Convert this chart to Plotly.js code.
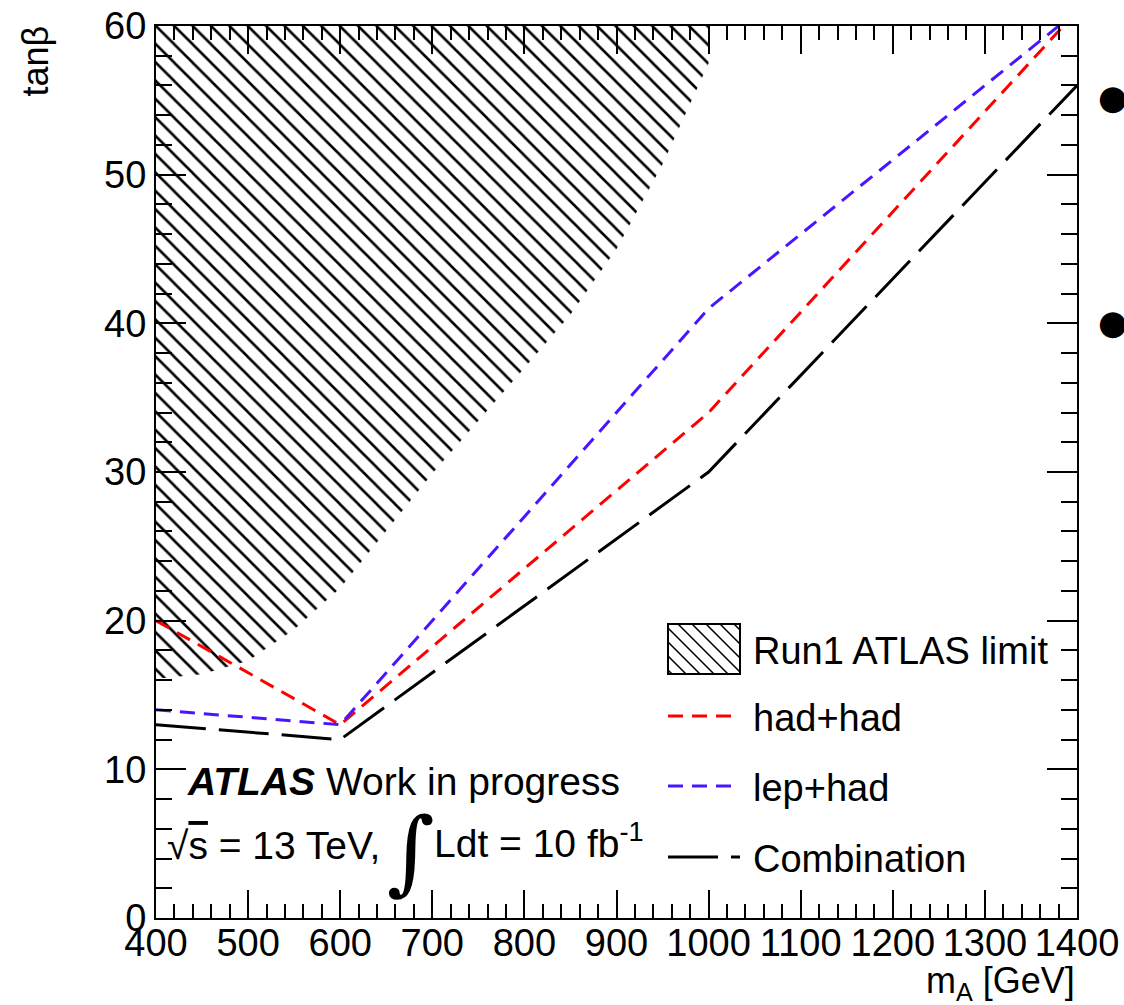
<!DOCTYPE html>
<html>
<head>
<meta charset="utf-8">
<script src="https://cdn.plot.ly/plotly-3.0.1.min.js"></script>
<style>
  html, body { margin: 0; padding: 0; background: #fff; }
  #chart { width: 1124px; height: 1005px; }
</style>
</head>
<body>
<div id="chart"></div>
<script>
// Expected tanβ limits versus m_A (GeV)
const massPoints = [400, 600, 1000, 1400];
const hadHadTanB = [20, 13, 34, 61];
const lepHadTanB = [14, 13, 41, 61];
const combTanB   = [13, 12, 30, 56];

// Run1 ATLAS excluded region: lower edge, closed along the top of the frame
const run1Mass = [400, 450, 500, 550, 600, 700, 800, 850, 900, 950, 1000, 1000, 400];
const run1TanB = [16.1, 16.4, 17.3, 19.4, 22.2, 29.9, 37.0, 40.6, 45.0, 50.7, 57.5, 60, 60];

// Axis ticks
const xTicks = [400, 500, 600, 700, 800, 900, 1000, 1100, 1200, 1300, 1400];
const yTicks = [0, 10, 20, 30, 40, 50, 60];

// Legend entries
const legendNames = ['Run1 ATLAS limit', 'had+had', 'lep+had', 'Combination'];

const FONT = 'Liberation Sans, Arial, Helvetica, sans-serif';
const RED = '#ff0000';
const BLUE = '#4b14ff';
const BLACK = '#000000';
const SHORT_DASH = '15px,9px';
const LONG_DASH = '50px,13px';

// Page geometry (pixels) and helpers from page pixels to paper coordinates
const W = 1124, H = 1005;
const M = { l: 156, r: 47, t: 26, b: 87 };
const PW = W - M.l - M.r;
const PH = H - M.t - M.b;
const px = x => (x - M.l) / PW;
const py = y => (H - M.b - y) / PH;

const traces = [
  {
    x: run1Mass, y: run1TanB, type: 'scatter', mode: 'lines',
    name: legendNames[0],
    line: { width: 0, color: BLACK },
    fill: 'toself', fillcolor: 'rgba(0,0,0,0)',
    fillpattern: { shape: '\\', fgcolor: BLACK, bgcolor: 'rgba(0,0,0,0)', size: 13, solidity: 0.2 },
    hoverinfo: 'skip', showlegend: false
  },
  {
    x: massPoints, y: hadHadTanB, type: 'scatter', mode: 'lines',
    name: legendNames[1], line: { color: RED, width: 3, dash: SHORT_DASH }, showlegend: false
  },
  {
    x: massPoints, y: lepHadTanB, type: 'scatter', mode: 'lines',
    name: legendNames[2], line: { color: BLUE, width: 3, dash: SHORT_DASH }, showlegend: false
  },
  {
    x: massPoints, y: combTanB, type: 'scatter', mode: 'lines',
    name: legendNames[3], line: { color: BLACK, width: 3, dash: LONG_DASH }, showlegend: false
  }
];

// Legend drawn inside the frame: swatches as shapes, labels as annotations
const sw = { x0: 668, x1: 740 };
const rowY = [649, 716, 786, 857];
const shapes = [];

// hatched box
const box = { x0: sw.x0, x1: sw.x1, y0: rowY[0] - 25, y1: rowY[0] + 25 };
shapes.push({
  type: 'rect', xref: 'paper', yref: 'paper',
  x0: px(box.x0), x1: px(box.x1), y0: py(box.y1), y1: py(box.y0),
  line: { color: BLACK, width: 2 }, fillcolor: 'rgba(0,0,0,0)'
});
for (let c = box.y0 - box.x1 + 6; c < box.y1 - box.x0; c += 14) {
  const xa = Math.max(box.x0, box.y0 - c);
  const xb = Math.min(box.x1, box.y1 - c);
  if (xb - xa < 1) continue;
  shapes.push({
    type: 'line', xref: 'paper', yref: 'paper',
    x0: px(xa), y0: py(xa + c), x1: px(xb), y1: py(xb + c),
    line: { color: BLACK, width: 1.6 }
  });
}
// line samples
const sampleStyles = [
  { color: RED, dash: SHORT_DASH },
  { color: BLUE, dash: SHORT_DASH },
  { color: BLACK, dash: LONG_DASH }
];
sampleStyles.forEach((s, i) => {
  shapes.push({
    type: 'line', xref: 'paper', yref: 'paper',
    x0: px(sw.x0), x1: px(sw.x1), y0: py(rowY[i + 1]), y1: py(rowY[i + 1]),
    line: { color: s.color, width: 3, dash: s.dash }
  });
});

const annotations = [];
legendNames.forEach((name, i) => {
  annotations.push({
    text: name, xref: 'paper', yref: 'paper', x: px(751), y: py(rowY[i] + 2),
    xanchor: 'left', yanchor: 'middle', showarrow: false,
    font: { family: FONT, size: 38, color: BLACK }
  });
});

// experiment label
annotations.push({
  text: '<b><i>ATLAS</i></b> Work in progress', xref: 'paper', yref: 'paper',
  x: px(185), y: py(781), xanchor: 'left', yanchor: 'middle', showarrow: false,
  font: { family: FONT, size: 39, color: BLACK }
});
annotations.push({
  text: '√<span style="text-decoration:overline">s</span> = 13 TeV,', xref: 'paper', yref: 'paper',
  x: px(165), y: py(845), xanchor: 'left', yanchor: 'middle', showarrow: false,
  font: { family: FONT, size: 39, color: BLACK }
});
annotations.push({
  text: '∫', xref: 'paper', yref: 'paper',
  x: px(411), y: py(851), xanchor: 'center', yanchor: 'middle', showarrow: false,
  font: { family: 'DejaVu Serif, serif', size: 92, color: BLACK }
});
annotations.push({
  text: 'Ldt = 10 fb<sup>-1</sup>', xref: 'paper', yref: 'paper',
  x: px(432), y: py(840), xanchor: 'left', yanchor: 'middle', showarrow: false,
  font: { family: FONT, size: 39, color: BLACK }
});

// axis titles
annotations.push({
  text: 'tanβ', xref: 'paper', yref: 'paper', x: px(35), y: py(24),
  xanchor: 'center', yanchor: 'top', textangle: -90, showarrow: false,
  font: { family: FONT, size: 36, color: BLACK }
});
annotations.push({
  text: 'm<sub>A</sub> [GeV]', xref: 'paper', yref: 'paper', x: 1, y: py(958),
  xanchor: 'right', yanchor: 'top', showarrow: false,
  font: { family: FONT, size: 36, color: BLACK }
});

// bullets of the neighbouring text column
[97, 322].forEach(yb => annotations.push({
  text: '●', xref: 'paper', yref: 'paper', x: px(1096), y: py(yb),
  xanchor: 'left', yanchor: 'middle', showarrow: false,
  font: { family: 'DejaVu Sans, sans-serif', size: 34, color: BLACK }
}));

const axisCommon = {
  ticks: 'inside', tickwidth: 2, tickcolor: BLACK,
  showline: true, linewidth: 2, linecolor: BLACK, mirror: 'ticks',
  showgrid: false, zeroline: false, fixedrange: true,
  tickfont: { family: FONT, size: 38, color: BLACK }
};

const layout = {
  width: W, height: H,
  margin: M,
  paper_bgcolor: '#ffffff', plot_bgcolor: '#ffffff',
  showlegend: false,
  xaxis: Object.assign({}, axisCommon, {
    range: [400, 1400], tickmode: 'array', tickvals: xTicks, ticktext: xTicks.map(String),
    ticklen: 28, ticklabelstandoff: -10,
    minor: { tickmode: 'linear', tick0: 400, dtick: 20, ticks: 'inside', ticklen: 14, tickwidth: 2, tickcolor: BLACK, showgrid: false }
  }),
  yaxis: Object.assign({}, axisCommon, {
    range: [0, 60], tickmode: 'array', tickvals: yTicks, ticktext: yTicks.map(String),
    ticklen: 30,
    minor: { tickmode: 'linear', tick0: 0, dtick: 2, ticks: 'inside', ticklen: 16, tickwidth: 2, tickcolor: BLACK, showgrid: false }
  }),
  shapes: shapes,
  annotations: annotations
};

Plotly.newPlot('chart', traces, layout, { staticPlot: true, displayModeBar: false });
</script>
</body>
</html>
